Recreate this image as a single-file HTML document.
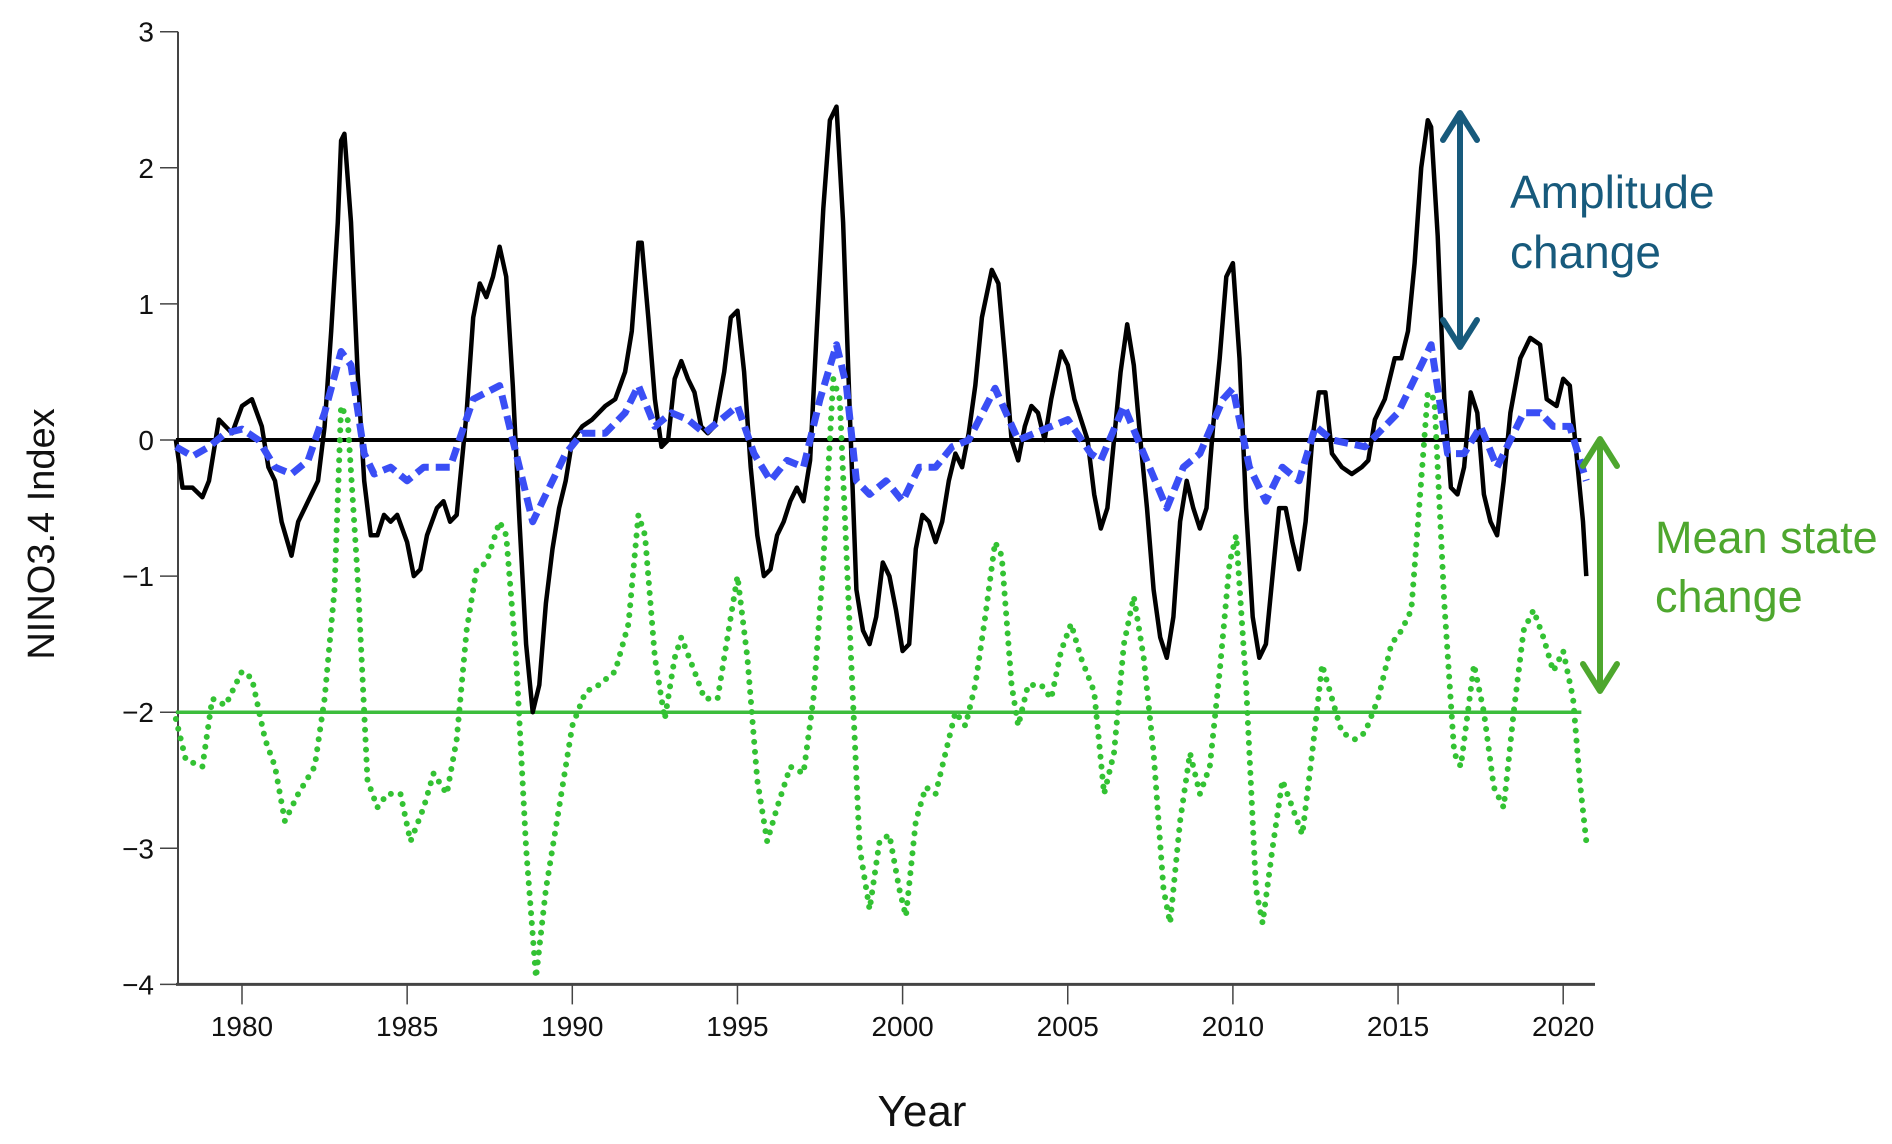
<!DOCTYPE html>
<html><head><meta charset="utf-8"><style>
html,body{margin:0;padding:0;background:#fff;}
svg{display:block;font-family:"Liberation Sans",sans-serif;}
</style></head><body>
<svg id="chart" width="1892" height="1144" viewBox="0 0 1892 1144" xmlns="http://www.w3.org/2000/svg">
<g id="axes"></g>
<g id="series"></g>
<text transform="translate(54,534) rotate(-90)" text-anchor="middle" font-size="38" fill="#111">NINO3.4 Index</text>
<text x="922" y="1126" text-anchor="middle" font-size="44" fill="#111">Year</text>
<g stroke="#175a7c" stroke-width="6" fill="none" stroke-linecap="round" stroke-linejoin="round">
<line x1="1460" y1="114" x2="1460" y2="346"/>
<polyline points="1443,140 1460,113 1477,140"/>
<polyline points="1443,320 1460,347 1477,320"/>
</g>
<text font-size="46" fill="#175a7c"><tspan x="1510" y="208">Amplitude</tspan><tspan x="1510" y="268">change</tspan></text>
<g stroke="#4ea72e" stroke-width="6" fill="none" stroke-linecap="round" stroke-linejoin="round">
<line x1="1600" y1="440" x2="1600" y2="690"/>
<polyline points="1583,466 1600,439 1617,466"/>
<polyline points="1583,664 1600,691 1617,664"/>
</g>
<text font-size="45" fill="#4ea72e"><tspan x="1655" y="553">Mean state</tspan><tspan x="1655" y="612">change</tspan></text>
</svg>
<script>
const yTicks=[3,2,1,0,-1,-2,-3,-4];
const yTickLabels=["3","2","1","0","\u22121","\u22122","\u22123","\u22124"];
const xTicks=[1980,1985,1990,1995,2000,2005,2010,2015,2020];
const xTickLabels=["1980","1985","1990","1995","2000","2005","2010","2015","2020"];
const blackYears=[1978.0,1978.2,1978.5,1978.8,1979.0,1979.3,1979.5,1979.7,1980.0,1980.3,1980.6,1980.8,1981.0,1981.2,1981.5,1981.7,1982.0,1982.3,1982.5,1982.7,1982.9,1983.0,1983.1,1983.3,1983.5,1983.7,1983.9,1984.1,1984.3,1984.5,1984.7,1985.0,1985.2,1985.4,1985.6,1985.9,1986.1,1986.3,1986.5,1986.8,1987.0,1987.2,1987.4,1987.6,1987.8,1988.0,1988.2,1988.4,1988.6,1988.8,1989.0,1989.2,1989.4,1989.6,1989.8,1990.0,1990.3,1990.6,1991.0,1991.3,1991.6,1991.8,1992.0,1992.1,1992.3,1992.5,1992.7,1992.9,1993.1,1993.3,1993.5,1993.7,1993.9,1994.1,1994.3,1994.6,1994.8,1995.0,1995.2,1995.4,1995.6,1995.8,1996.0,1996.2,1996.4,1996.6,1996.8,1997.0,1997.2,1997.4,1997.6,1997.8,1998.0,1998.2,1998.4,1998.6,1998.8,1999.0,1999.2,1999.4,1999.6,1999.8,2000.0,2000.2,2000.4,2000.6,2000.8,2001.0,2001.2,2001.4,2001.6,2001.8,2002.0,2002.2,2002.4,2002.7,2002.9,2003.1,2003.3,2003.5,2003.7,2003.9,2004.1,2004.3,2004.5,2004.8,2005.0,2005.2,2005.4,2005.6,2005.8,2006.0,2006.2,2006.4,2006.6,2006.8,2007.0,2007.2,2007.4,2007.6,2007.8,2008.0,2008.2,2008.4,2008.6,2008.8,2009.0,2009.2,2009.4,2009.6,2009.8,2010.0,2010.2,2010.4,2010.6,2010.8,2011.0,2011.2,2011.4,2011.6,2011.8,2012.0,2012.2,2012.4,2012.6,2012.8,2013.0,2013.3,2013.6,2013.9,2014.1,2014.3,2014.6,2014.9,2015.1,2015.3,2015.5,2015.7,2015.9,2016.0,2016.2,2016.4,2016.6,2016.8,2017.0,2017.2,2017.4,2017.6,2017.8,2018.0,2018.2,2018.4,2018.7,2019.0,2019.3,2019.5,2019.8,2020.0,2020.2,2020.4,2020.6,2020.7];
const blackValues=[0,-0.35,-0.35,-0.42,-0.3,0.15,0.1,0.05,0.25,0.3,0.1,-0.2,-0.3,-0.6,-0.85,-0.6,-0.45,-0.3,0.1,0.8,1.6,2.2,2.25,1.6,0.5,-0.3,-0.7,-0.7,-0.55,-0.6,-0.55,-0.75,-1.0,-0.95,-0.7,-0.5,-0.45,-0.6,-0.55,0.2,0.9,1.15,1.05,1.2,1.42,1.2,0.4,-0.6,-1.5,-2.0,-1.8,-1.2,-0.8,-0.5,-0.3,0.0,0.1,0.15,0.25,0.3,0.5,0.8,1.45,1.45,0.9,0.3,-0.05,0.0,0.45,0.58,0.45,0.35,0.1,0.05,0.1,0.5,0.9,0.95,0.5,-0.2,-0.7,-1.0,-0.95,-0.7,-0.6,-0.45,-0.35,-0.45,-0.15,0.8,1.7,2.35,2.45,1.6,0.2,-1.1,-1.4,-1.5,-1.3,-0.9,-1.0,-1.25,-1.55,-1.5,-0.8,-0.55,-0.6,-0.75,-0.6,-0.3,-0.1,-0.2,0.05,0.4,0.9,1.25,1.15,0.6,0.0,-0.15,0.1,0.25,0.2,0.0,0.3,0.65,0.55,0.3,0.15,0.0,-0.4,-0.65,-0.5,0.0,0.5,0.85,0.55,0.0,-0.5,-1.1,-1.45,-1.6,-1.3,-0.6,-0.3,-0.5,-0.65,-0.5,0.1,0.6,1.2,1.3,0.6,-0.5,-1.3,-1.6,-1.5,-1.0,-0.5,-0.5,-0.75,-0.95,-0.6,0.0,0.35,0.35,-0.1,-0.2,-0.25,-0.2,-0.15,0.15,0.3,0.6,0.6,0.8,1.3,2.0,2.35,2.3,1.5,0.3,-0.35,-0.4,-0.2,0.35,0.2,-0.4,-0.6,-0.7,-0.3,0.2,0.6,0.75,0.7,0.3,0.25,0.45,0.4,-0.1,-0.6,-1.0];
const blueYears=[1978,1978.5,1979,1979.5,1980,1980.5,1981,1981.5,1982,1982.5,1983.0,1983.3,1983.7,1984.0,1984.5,1985,1985.5,1986.3,1987,1987.8,1988.3,1988.8,1989.3,1989.8,1990.3,1991,1991.6,1992.0,1992.5,1993,1993.5,1994,1995,1995.5,1996,1996.5,1997,1997.5,1998,1998.3,1998.6,1999,1999.5,2000,2000.5,2001,2001.5,2002,2002.8,2003.5,2004,2005,2005.7,2006,2006.7,2007.3,2008,2008.5,2009,2009.7,2010,2010.5,2011,2011.5,2012,2012.5,2013,2014,2015,2016,2016.5,2017,2017.5,2018,2018.8,2019.3,2019.7,2020.2,2020.7];
const blueValues=[-0.05,-0.12,-0.05,0.05,0.08,0.0,-0.2,-0.25,-0.15,0.2,0.65,0.55,-0.1,-0.25,-0.2,-0.3,-0.2,-0.2,0.3,0.4,-0.1,-0.6,-0.35,-0.1,0.05,0.05,0.2,0.4,0.1,0.2,0.15,0.05,0.25,-0.1,-0.3,-0.15,-0.2,0.3,0.7,0.4,-0.3,-0.4,-0.3,-0.45,-0.2,-0.2,-0.05,0.0,0.38,0.0,0.05,0.15,-0.1,-0.15,0.25,-0.1,-0.5,-0.2,-0.1,0.3,0.38,-0.2,-0.45,-0.2,-0.3,0.1,0.0,-0.05,0.2,0.7,-0.1,-0.1,0.1,-0.2,0.2,0.2,0.1,0.1,-0.3];
const greenYears=[1978,1978.3,1978.8,1979.1,1979.5,1980,1980.3,1980.7,1981.0,1981.3,1981.7,1982.2,1982.5,1982.8,1983.0,1983.2,1983.5,1983.8,1984.1,1984.4,1984.8,1985.1,1985.5,1985.8,1986.2,1986.5,1986.8,1987.1,1987.4,1987.8,1988.0,1988.3,1988.6,1988.9,1989.2,1989.6,1990.0,1990.4,1990.8,1991.3,1991.7,1992.0,1992.2,1992.5,1992.8,1993.1,1993.3,1993.7,1994.0,1994.4,1994.8,1995.0,1995.3,1995.6,1995.9,1996.2,1996.6,1997.0,1997.3,1997.6,1997.9,1998.1,1998.4,1998.7,1999.0,1999.3,1999.6,1999.9,2000.1,2000.4,2000.7,2001.0,2001.3,2001.6,2001.9,2002.2,2002.5,2002.8,2003.0,2003.3,2003.5,2003.8,2004.2,2004.5,2004.8,2005.1,2005.4,2005.8,2006.1,2006.4,2006.7,2007.0,2007.3,2007.6,2007.9,2008.1,2008.4,2008.7,2009.0,2009.3,2009.6,2009.9,2010.1,2010.4,2010.7,2010.9,2011.2,2011.5,2011.8,2012.1,2012.4,2012.7,2013.0,2013.3,2013.7,2014.0,2014.4,2014.8,2015.1,2015.4,2015.7,2015.9,2016.1,2016.4,2016.7,2016.9,2017.3,2017.6,2017.9,2018.2,2018.5,2018.8,2019.1,2019.4,2019.7,2020.0,2020.3,2020.5,2020.7];
const greenValues=[-2.05,-2.35,-2.4,-1.9,-1.95,-1.7,-1.75,-2.2,-2.4,-2.8,-2.6,-2.4,-1.9,-1.1,0.25,0.15,-1.0,-2.5,-2.7,-2.6,-2.6,-2.95,-2.7,-2.45,-2.6,-2.2,-1.4,-0.95,-0.9,-0.6,-0.7,-1.6,-3.0,-3.95,-3.3,-2.7,-2.1,-1.85,-1.8,-1.7,-1.35,-0.55,-0.7,-1.6,-2.05,-1.6,-1.45,-1.7,-1.9,-1.9,-1.3,-1.0,-1.6,-2.5,-2.95,-2.7,-2.4,-2.45,-1.9,-0.9,0.45,0.3,-1.4,-3.0,-3.45,-2.95,-2.9,-3.3,-3.5,-2.8,-2.55,-2.6,-2.3,-2.0,-2.1,-1.8,-1.3,-0.75,-0.85,-1.8,-2.1,-1.8,-1.8,-1.9,-1.55,-1.35,-1.6,-1.85,-2.6,-2.3,-1.5,-1.15,-1.6,-2.3,-3.3,-3.55,-2.8,-2.3,-2.6,-2.4,-1.7,-0.9,-0.7,-1.8,-3.3,-3.55,-3.0,-2.5,-2.7,-2.9,-2.3,-1.65,-1.9,-2.15,-2.2,-2.15,-1.9,-1.5,-1.4,-1.25,-0.3,0.35,0.3,-1.2,-2.3,-2.4,-1.65,-2.0,-2.55,-2.7,-2.0,-1.4,-1.25,-1.45,-1.7,-1.55,-1.9,-2.5,-2.95];
const refLines=[0,-2];

const NS="http://www.w3.org/2000/svg";
const X0=178,X1=1595,YEAR0=1980,PXY=33.03;
function xs(yr){return 242+(yr-YEAR0)*PXY;}
function ys(v){return 440-v*136.1;}
function mk(tag,attrs,parent){const e=document.createElementNS(NS,tag);for(const k in attrs)e.setAttribute(k,attrs[k]);parent.appendChild(e);return e;}
const axes=document.getElementById('axes');
const series=document.getElementById('series');

let ya=mk('line',{x1:X0,y1:ys(3),x2:X0,y2:ys(-4),stroke:'#444','stroke-width':2},axes);


let xa=mk('line',{x1:X0-2,y1:ys(-4),x2:X1,y2:ys(-4),stroke:'#444','stroke-width':3},axes);


yTicks.forEach((v,i)=>{
  const t=mk('line',{x1:X0-18,y1:ys(v),x2:X0,y2:ys(v),stroke:'#444','stroke-width':1.5},axes);
  
  
  const l=mk('text',{x:X0-24,y:ys(v)+10,'text-anchor':'end','font-size':28,fill:'#111'},axes);
  l.textContent=yTickLabels[i];
  
  
});
xTicks.forEach((yr,i)=>{
  const t=mk('line',{x1:xs(yr),y1:ys(-4),x2:xs(yr),y2:ys(-4)+20,stroke:'#444','stroke-width':1.5},axes);
  
  
  const l=mk('text',{x:xs(yr),y:1036,'text-anchor':'middle','font-size':28,fill:'#111'},axes);
  l.textContent=xTickLabels[i];
  
  
});
const r0=mk('line',{x1:xs(1978),y1:ys(refLines[0]),x2:xs(2020.55),y2:ys(refLines[0]),stroke:'#000','stroke-width':4},series);


const r1=mk('line',{x1:xs(1978),y1:ys(refLines[1]),x2:xs(2020.55),y2:ys(refLines[1]),stroke:'#3cbd3c','stroke-width':3.5},series);


function pts(yrs,vals){return yrs.map((y,i)=>xs(y).toFixed(1)+','+ys(vals[i]).toFixed(1)).join(' ');}
const g=mk('polyline',{points:pts(greenYears,greenValues),fill:'none',stroke:'#33c233','stroke-width':6,'stroke-dasharray':'0 10','stroke-linecap':'round','stroke-linejoin':'round'},series);


const k=mk('polyline',{points:pts(blackYears,blackValues),fill:'none',stroke:'#000','stroke-width':4.5,'stroke-linejoin':'round'},series);


const b=mk('polyline',{points:pts(blueYears,blueValues),fill:'none',stroke:'#3a4ef5','stroke-width':7,'stroke-dasharray':'14 7','stroke-linejoin':'round'},series);


</script>
</body></html>
